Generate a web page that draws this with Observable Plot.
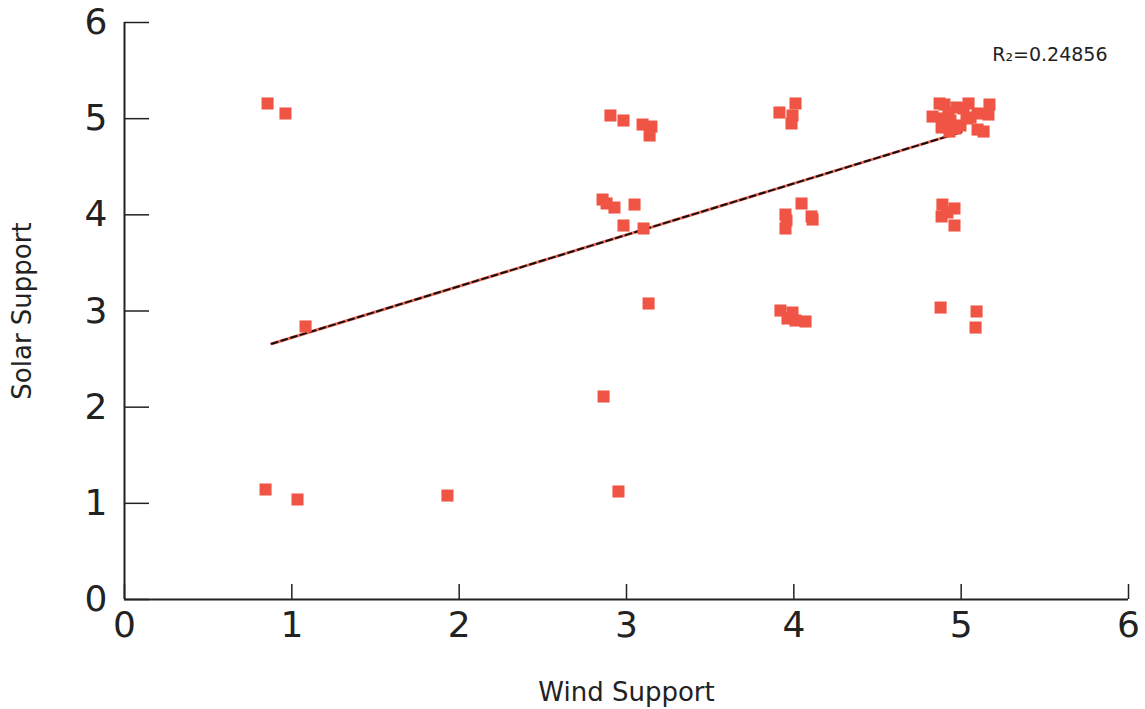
<!DOCTYPE html>
<html><head><meta charset="utf-8">
<script src="https://cdn.jsdelivr.net/npm/d3@7"></script>
<script src="https://cdn.jsdelivr.net/npm/@observablehq/plot@0.6"></script>
<style>body{margin:0;background:#fff}</style>
</head><body><div id="chart"></div>
<script>
// Wind support (x) and solar support (y) for each respondent
const wind = [
  0.855, 0.962, 1.082, 0.843, 1.034, 1.930,
  2.863, 2.952, 3.132,
  2.904, 2.982, 3.096, 3.149, 3.138,
  2.857, 2.881, 2.928, 3.048, 2.982, 3.102,
  3.914, 4.010, 3.992, 3.986,
  4.046, 3.950, 3.956, 3.950, 4.106, 4.112,
  3.920, 3.992, 3.962, 4.010, 4.070,
  4.877, 5.092, 5.086,
  4.888, 4.960, 4.883, 4.918, 4.960,
  4.871, 4.900, 4.972, 5.014, 5.044, 5.098, 5.169, 5.163, 4.829, 4.894,
  4.936, 5.032, 4.883, 4.930, 4.966, 4.996, 5.098, 5.134, 5.056, 4.924
];
const solar = [
  5.158, 5.054, 2.839, 1.144, 1.040, 1.081,
  2.111, 1.123, 3.078,
  5.033, 4.981, 4.939, 4.918, 4.825,
  4.159, 4.118, 4.076, 4.107, 3.889, 3.858,
  5.064, 5.158, 5.033, 4.950,
  4.118, 4.003, 3.941, 3.858, 3.983, 3.951,
  3.005, 2.984, 2.922, 2.901, 2.891,
  3.036, 2.995, 2.828,
  4.107, 4.066, 3.983, 4.024, 3.889,
  5.158, 5.147, 5.116, 5.106, 5.158, 5.054, 5.147, 5.043, 5.022, 5.002,
  4.981, 5.002, 4.908, 4.866, 4.898, 4.929, 4.887, 4.866, 5.012, 5.064
];
// Linear fit line endpoints
const fitX = [0.88, 5.0];
const fitY = [2.66, 4.86];
const xTicks = [0, 1, 2, 3, 4, 5, 6];
const yTicks = [0, 1, 2, 3, 4, 5, 6];
const r2Label = "R\u2082=0.24856";
const xLabel = "Wind Support";
const yLabel = "Solar Support";

const points = wind.map((w, i) => ({wind: w, solar: solar[i]}));
const fit = fitX.map((x, i) => ({x, y: fitY[i]}));

const font = "'DejaVu Sans', Verdana, sans-serif";
const chart = Plot.plot({
  width: 1145, height: 709,
  marginLeft: 124, marginRight: 17, marginTop: 22, marginBottom: 110,
  x: {domain: [0, 6]},
  y: {domain: [0, 6]},
  style: {fontFamily: font, color: "#222", background: "#fff"},
  marks: [
    Plot.ruleX([0], {stroke: "#222", strokeWidth: 2}),
    Plot.ruleY([0], {stroke: "#222", strokeWidth: 2}),
    Plot.axisY(yTicks, {tickSize: -25, fill: "none", stroke: "#222", strokeWidth: 1.5, label: null}),
    Plot.axisY(yTicks, {tickSize: 0, tickPadding: 17, fontSize: 36, fill: "#222", tickFormat: "d", label: null}),
    Plot.axisX(xTicks, {tickSize: -15, fill: "none", stroke: "#222", strokeWidth: 1.5, label: null}),
    Plot.axisX(xTicks, {tickSize: 0, tickPadding: 12, fontSize: 36, fill: "#222", tickFormat: "d", label: null}),
    Plot.line(fit, {x: "x", y: "y", stroke: "#f26b5b", strokeWidth: 3}),
    Plot.line(fit, {x: "x", y: "y", stroke: "#111", strokeWidth: 2, strokeDasharray: "6,4"}),
    Plot.dot(points, {x: "wind", y: "solar", symbol: "square", r: 6.8, fill: "#f05444", stroke: "none"}),
    Plot.text([r2Label], {frameAnchor: "top-right", dx: -21, dy: 25, fontSize: 19, textAnchor: "end", fill: "#222"}),
    Plot.text([xLabel], {frameAnchor: "bottom", textAnchor: "middle", dy: 101, fontSize: 26, fill: "#222"}),
    Plot.text([yLabel], {frameAnchor: "left", textAnchor: "middle", dx: -102, rotate: -90, fontSize: 26, fill: "#222"})
  ]
});
document.getElementById("chart").append(chart);
</script>
</body></html>
